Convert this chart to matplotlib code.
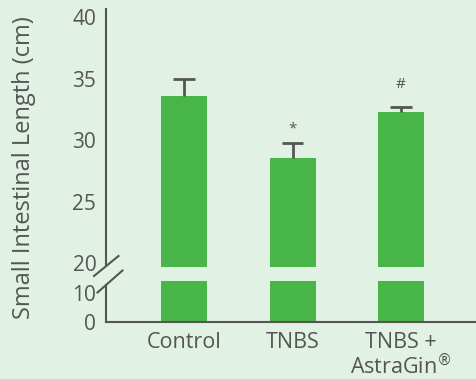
import matplotlib
matplotlib.use("Agg")
import matplotlib.pyplot as plt
from matplotlib.lines import Line2D

# Data
groups = ["Control", "TNBS", "TNBS +\nAstraGin$^{®}$"]
lengths = [33.6, 28.55, 32.25]
errors = [1.35, 1.2, 0.43]
marks = ["", "*", "#"]
upper_ticks = [20, 25, 30, 35, 40]
lower_ticks = [0, 10]

bg = "#E1F1E3"
green = "#48B548"
grey = "#555555"

plt.rcParams["font.family"] = ["Open Sans", "DejaVu Sans"]

W, H = 477, 379
fig = plt.figure(figsize=(W / 100, H / 100), dpi=100, facecolor=bg)


def fx(px):
    return px / W


def fy(py):
    return 1 - py / H


left_px, right_px = 106, 477
ax_top = fig.add_axes([fx(left_px), fy(267), fx(right_px - left_px), fy(9) - fy(267)])
ax_bot = fig.add_axes([fx(left_px), fy(322), fx(right_px - left_px), fy(281) - fy(322)])

x = list(range(len(groups)))
width = 0.424
cap_half = 0.1
xlim = (-0.719, 2.70)

for ax in (ax_top, ax_bot):
    ax.set_facecolor(bg)
    ax.bar(x, lengths, width=width, color=green, zorder=2)
    ax.set_xlim(*xlim)
    for s in ("top", "right"):
        ax.spines[s].set_visible(False)
    ax.spines["left"].set_color(grey)
    ax.spines["left"].set_linewidth(1.5)
    ax.tick_params(axis="y", length=0, pad=7, labelsize=15, labelcolor=grey)

# Upper-only error bars
tops = [v + e for v, e in zip(lengths, errors)]
ax_top.vlines(x, lengths, tops, color=grey, lw=2, zorder=3)
ax_top.hlines(tops, [xi - cap_half for xi in x], [xi + cap_half for xi in x],
              color=grey, lw=2, zorder=3)

ax_top.set_ylim(19.7, 40.65)
ax_top.set_yticks(upper_ticks)
ax_top.spines["bottom"].set_visible(False)
ax_top.spines["left"].set_bounds(19.88, 40.65)
ax_top.set_xticks([])

for xi, t, m in zip(x, tops, marks):
    if m:
        ax_top.annotate(m, (xi, t), xytext=(0, 10 if m == "*" else 16),
                        textcoords="offset points", ha="center", va="center",
                        fontsize=11, color=grey)

ax_bot.set_ylim(0, 14.1)
ax_bot.set_yticks(lower_ticks)
ax_bot.spines["left"].set_bounds(0, 12.7)
ax_bot.spines["bottom"].set_color(grey)
ax_bot.spines["bottom"].set_linewidth(1.5)
ax_bot.set_xticks(x)
ax_bot.set_xticklabels(groups, linespacing=1.0)
ax_bot.tick_params(axis="x", length=0, pad=7, labelsize=15.5, labelcolor=grey)

# Axis break marks
for (x0, y0, x1, y1) in [(94, 276, 118.5, 256), (97.5, 292.5, 122.5, 270.5)]:
    fig.add_artist(Line2D([fx(x0), fx(x1)], [fy(y0), fy(y1)],
                          transform=fig.transFigure, color=grey, lw=1.5))

fig.text(fx(24), fy(168), "Small Intestinal Length (cm)", rotation=90,
         ha="center", va="center", fontsize=17, color=grey)

fig.savefig("out.png", dpi=100, facecolor=bg)
